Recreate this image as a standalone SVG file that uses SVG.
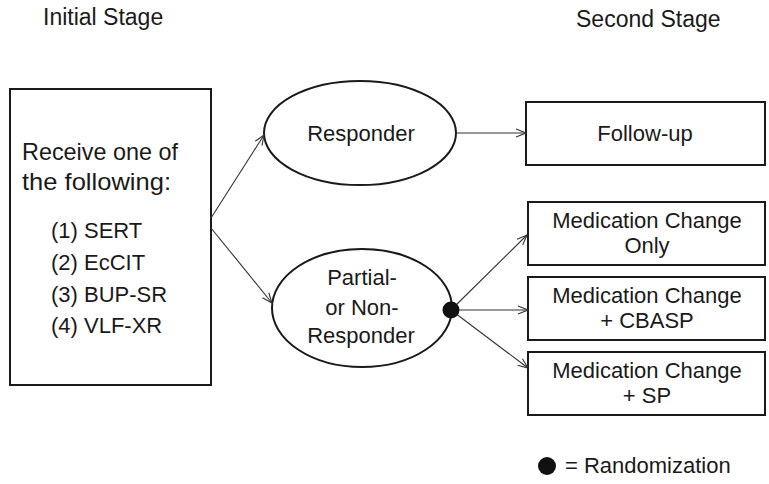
<svg xmlns="http://www.w3.org/2000/svg" width="769" height="484" viewBox="0 0 769 484">
<defs>
<style>
text{font-family:"Liberation Sans",Arial,sans-serif;font-size:22px;fill:#1a1a1a}
.h{font-size:23px}
.big{font-size:24px}
.box{fill:#fff;stroke:#1a1a1a;stroke-width:2}
.edge{fill:none;stroke:#333;stroke-width:1.1;marker-end:url(#arr)}
.c{text-anchor:middle}
</style>
<marker id="arr" viewBox="0 0 12 10" refX="11" refY="5" markerWidth="12" markerHeight="10" markerUnits="userSpaceOnUse" orient="auto">
<path d="M1,1 L11,5 L1,9" fill="none" stroke="#333" stroke-width="1.1"/>
</marker>
</defs>
<g id="headers">
<text class="h" x="43" y="25">Initial Stage</text>
<text class="h" x="576" y="27">Second Stage</text>
</g>
<g id="initial">
<rect class="box" x="10" y="89" width="201" height="296"/>
<text class="big" x="22" y="160" textLength="156" lengthAdjust="spacingAndGlyphs">Receive one of</text>
<text class="big" x="22" y="190" textLength="149" lengthAdjust="spacingAndGlyphs">the following:</text>
<text x="51" y="238">(1) SERT</text>
<text x="51" y="270">(2) EcCIT</text>
<text x="51" y="302">(3) BUP-SR</text>
<text x="51" y="333">(4) VLF-XR</text>
</g>
<g id="responder">
<ellipse class="box" cx="360" cy="133" rx="96" ry="52"/>
<text class="c" x="361" y="141">Responder</text>
</g>
<g id="nonresponder">
<ellipse class="box" cx="362" cy="308" rx="90" ry="59"/>
<text class="c" x="362" y="285">Partial-</text>
<text class="c" x="362" y="315">or Non-</text>
<text class="c" x="361" y="343">Responder</text>
</g>
<g id="followup">
<rect class="box" x="526" y="102" width="239" height="63"/>
<text class="c" x="645" y="141">Follow-up</text>
</g>
<g id="medonly">
<rect class="box" x="528" y="202" width="237" height="63"/>
<text class="c" x="647" y="228">Medication Change</text>
<text class="c" x="647" y="253">Only</text>
</g>
<g id="medcbasp">
<rect class="box" x="528" y="277" width="237" height="63"/>
<text class="c" x="647" y="303">Medication  Change</text>
<text class="c" x="647" y="328">+ CBASP</text>
</g>
<g id="medsp">
<rect class="box" x="528" y="352" width="237" height="63"/>
<text class="c" x="647" y="378">Medication Change</text>
<text class="c" x="647" y="403">+ SP</text>
</g>
<g id="connectors">
<line class="edge" x1="211" y1="218" x2="264" y2="135"/>
<line class="edge" x1="211" y1="228" x2="272" y2="303"/>
<line class="edge" x1="457" y1="133" x2="526" y2="133"/>
<line class="edge" x1="451" y1="310" x2="527" y2="235"/>
<line class="edge" x1="451" y1="310" x2="528" y2="310"/>
<line class="edge" x1="451" y1="310" x2="528" y2="368"/>
</g>
<g id="randomization">
<circle cx="451" cy="310" r="8.5" fill="#111"/>
</g>
<g id="legend">
<circle cx="547" cy="466" r="9" fill="#111"/>
<text x="565" y="473">= Randomization</text>
</g>
</svg>
